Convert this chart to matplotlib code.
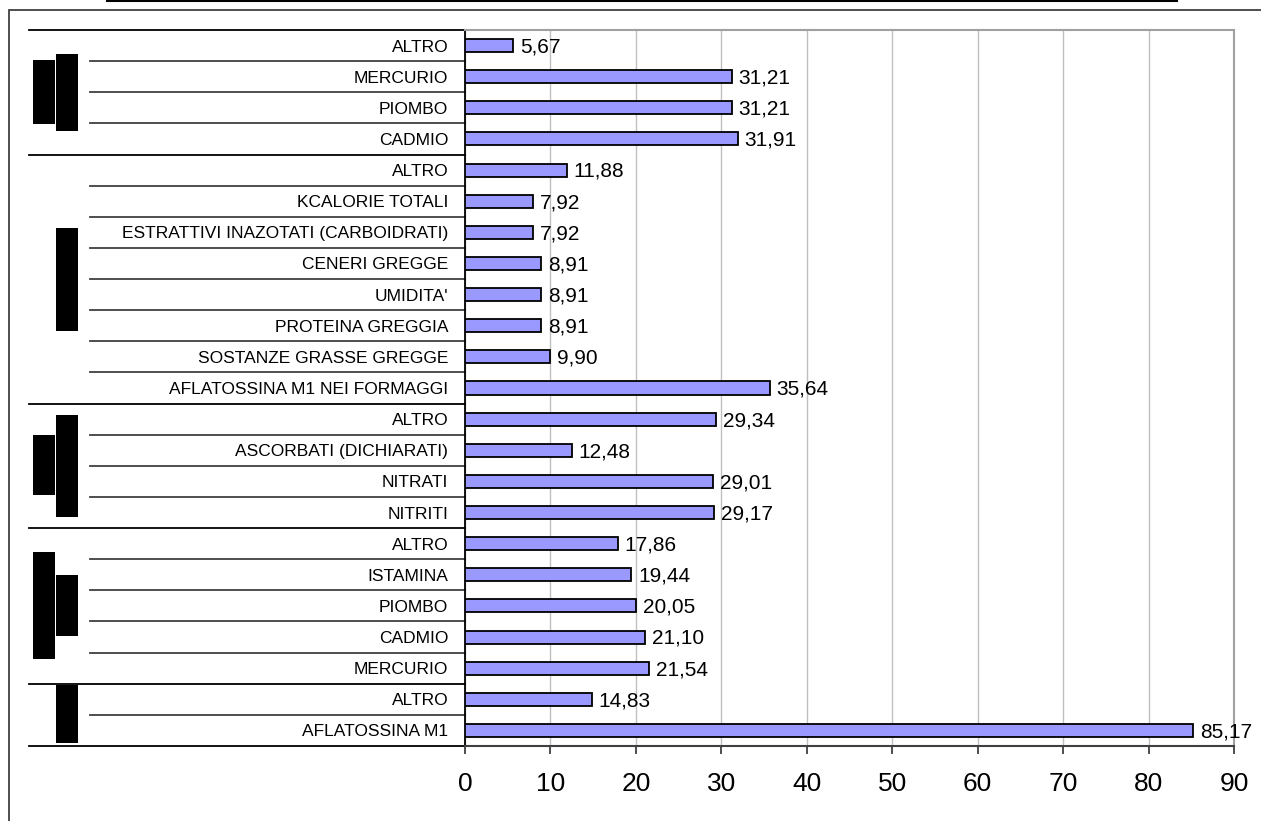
import matplotlib
matplotlib.use('Agg')
import matplotlib.pyplot as plt
import matplotlib.patches as patches
import matplotlib.transforms as mtransforms
from matplotlib.lines import Line2D

plt.rcParams['font.family'] = ['Liberation Sans', 'DejaVu Sans']

# categories from top to bottom, split by group
groups = [
    ['ALTRO', 'MERCURIO', 'PIOMBO', 'CADMIO'],
    ['ALTRO', 'KCALORIE TOTALI', 'ESTRATTIVI INAZOTATI (CARBOIDRATI)', 'CENERI GREGGE',
     "UMIDITA'", 'PROTEINA GREGGIA', 'SOSTANZE GRASSE GREGGE', 'AFLATOSSINA M1 NEI FORMAGGI'],
    ['ALTRO', 'ASCORBATI (DICHIARATI)', 'NITRATI', 'NITRITI'],
    ['ALTRO', 'ISTAMINA', 'PIOMBO', 'CADMIO', 'MERCURIO'],
    ['ALTRO', 'AFLATOSSINA M1'],
]
values = [
    [5.67, 31.21, 31.21, 31.91],
    [11.88, 7.92, 7.92, 8.91, 8.91, 8.91, 9.90, 35.64],
    [29.34, 12.48, 29.01, 29.17],
    [17.86, 19.44, 20.05, 21.10, 21.54],
    [14.83, 85.17],
]
x_ticks = [0, 10, 20, 30, 40, 50, 60, 70, 80, 90]

labels = [c for g in groups for c in g]
vals = [v for g in values for v in g]
n = len(labels)
ypos = list(range(n))

W, H = 1261, 821
fig = plt.figure(figsize=(W / 100, H / 100), dpi=100)
ax = fig.add_axes([465 / W, 1 - 746 / H, (1234 - 465) / W, (746 - 30) / H])

ax.barh(ypos, vals, height=0.42, color='#9999FF', edgecolor='black', linewidth=1.3, zorder=3)
for y, v in zip(ypos, vals):
    ax.annotate(f'{v:.2f}'.replace('.', ','), (v, y), xytext=(5, -1), textcoords='offset points',
                ha='left', va='center', fontsize=15, zorder=4)

ax.set_xlim(0, 90)
ax.set_ylim(n - 0.5, -0.5)
ax.set_xticks(x_ticks)
ax.set_xticklabels([str(t) for t in x_ticks], fontsize=19)
ax.set_yticks(ypos)
ax.set_yticklabels(labels, fontsize=12.5)
ax.tick_params(axis='y', length=0, pad=12)
ax.tick_params(axis='x', length=6, width=1.2, color='#303030', pad=13, direction='out')
ax.grid(axis='x', color='#C0C0C0', linewidth=1, zorder=0)
ax.set_axisbelow(True)

for side in ['top', 'right']:
    ax.spines[side].set_color('#A0A0A0')
    ax.spines[side].set_linewidth(1.5)
ax.spines['left'].set_color('black')
ax.spines['left'].set_linewidth(1.3)
ax.spines['bottom'].set_color('#404040')
ax.spines['bottom'].set_linewidth(1.5)

# separator lines in the label area: long ones between groups, short ones inside
trans = mtransforms.blended_transform_factory(fig.transFigure, ax.transData)
bounds = [-0.5]
for g in groups:
    bounds.append(bounds[-1] + len(g))
for i in range(n + 1):
    b = i - 0.5
    is_group = b in bounds
    x0 = 29 / W if is_group else 90 / W
    col = 'black' if is_group else '#404040'
    ax.add_line(Line2D([x0, 465 / W], [b, b], transform=trans, color=col,
                       linewidth=1.3, clip_on=False))

# blacked-out group labels (pixel boxes: x0, y0, x1, y1)
redactions = [
    (33, 60, 55, 124), (56, 54, 78, 131),
    (56, 228, 78, 331),
    (33, 435, 55, 495), (56, 415, 78, 517),
    (33, 552, 55, 659), (56, 575, 78, 636),
    (56, 685, 78, 743),
]
for x0, y0, x1, y1 in redactions:
    fig.patches.append(patches.Rectangle((x0 / W, 1 - y1 / H), (x1 - x0) / W, (y1 - y0) / H,
                                         transform=fig.transFigure, facecolor='black',
                                         edgecolor='none'))

# outer frame and the rule above it
fig.patches.append(patches.Rectangle((8.5 / W, -0.05), 1.2, 1 - 10 / H + 0.05,
                                     transform=fig.transFigure, fill=False,
                                     edgecolor='#404040', linewidth=1.3))
fig.lines.append(Line2D([107 / W, 1177 / W], [1 - 1 / H, 1 - 1 / H], transform=fig.transFigure,
                        color='black', linewidth=1.5))

fig.savefig('out.png', dpi=100)
